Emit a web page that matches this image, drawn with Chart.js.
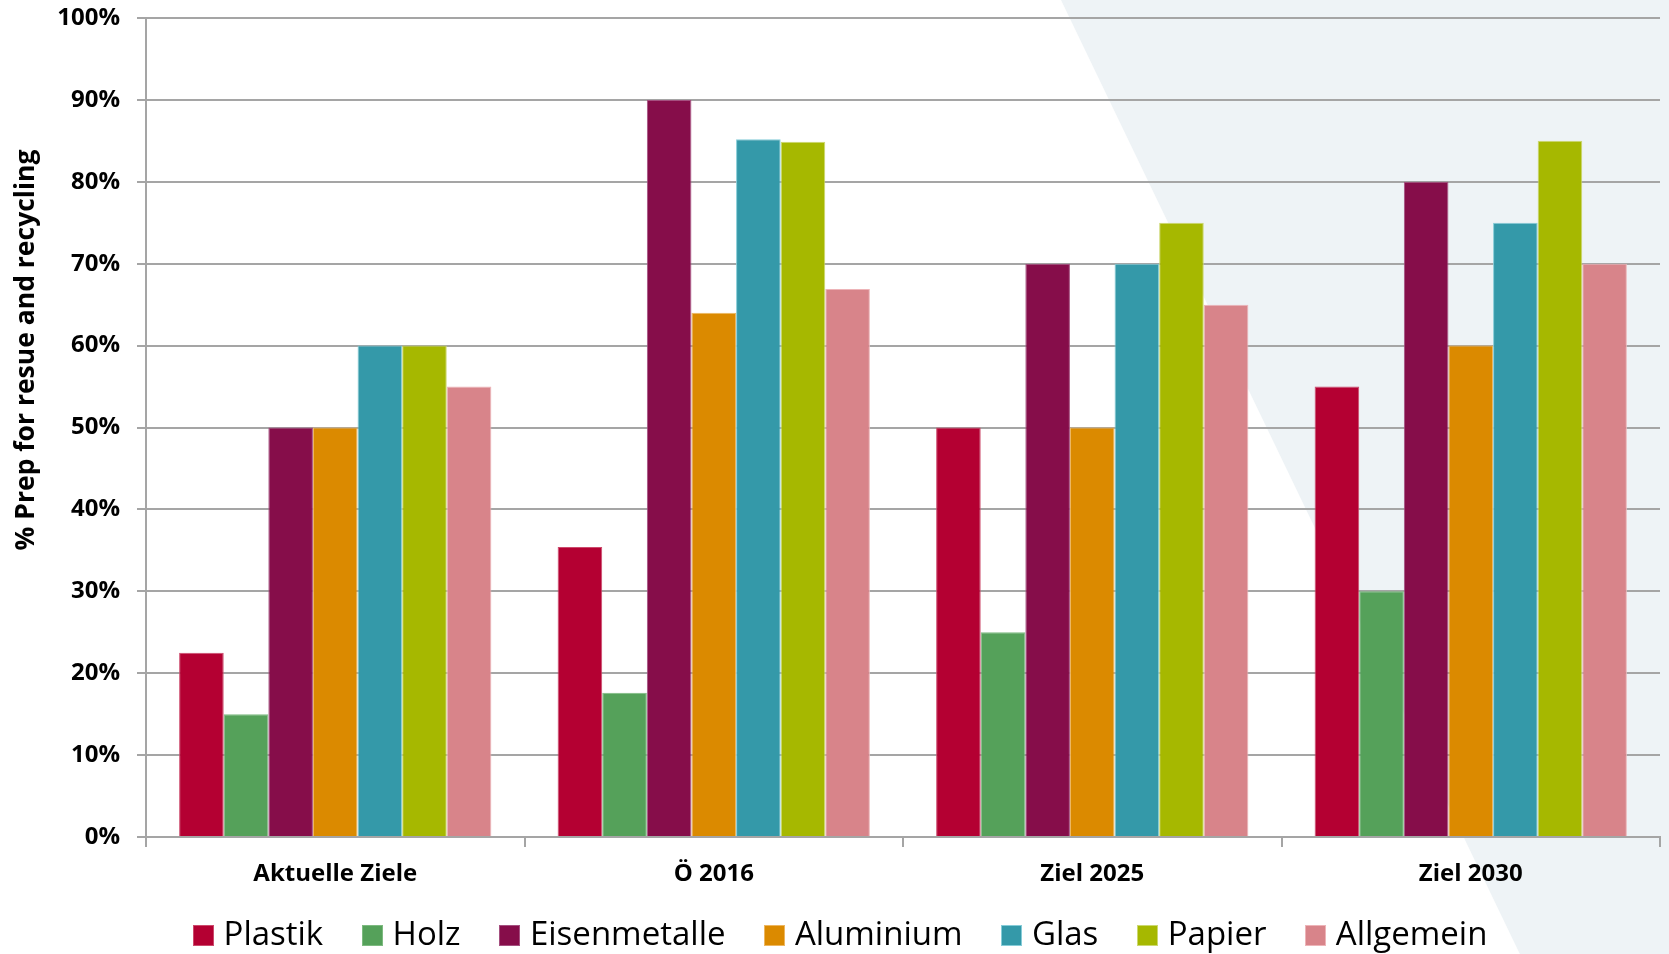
<!DOCTYPE html>
<html>
<head>
<meta charset="utf-8">
<script src="https://cdn.jsdelivr.net/npm/chart.js@4/dist/chart.umd.min.js"></script>
<style>
  html, body { margin: 0; padding: 0; overflow: hidden; background: #fff; }
  #wrap { position: relative; width: 1669px; height: 954px; }
  #legend {
    position: absolute; left: 0; top: 913px; width: 1669px; height: 40px;
    box-sizing: border-box; padding-left: 11px;
    display: flex; justify-content: center; align-items: center;
    font-family: 'Open Sans', 'Noto Sans', sans-serif; font-size: 33px; line-height: 40px; color: #000;
    white-space: nowrap;
  }
  #legend .item { display: flex; align-items: center; margin: 0 19.2px; }
  #legend .box { width: 19px; height: 19px; margin-right: 10px; margin-top: 5px; border: 1px solid transparent; }
</style>
</head>
<body>
<div id="wrap">
  <canvas id="chart"></canvas>
  <div id="legend"></div>
</div>
<script>
// Recycling targets per material group
const categories = ['Aktuelle Ziele', 'Ö 2016', 'Ziel 2025', 'Ziel 2030'];
const plastik   = [22.5, 35.4, 50, 55];
const holz      = [15, 17.6, 25, 30];
const eisen     = [50, 90, 70, 80];
const aluminium = [50, 64, 50, 60];
const glas      = [60, 85.2, 70, 75];
const papier    = [60, 84.9, 75, 85];
const allgemein = [55, 66.9, 65, 70];
const yTickLabels = ['0%', '10%', '20%', '30%', '40%', '50%', '60%', '70%', '80%', '90%', '100%'];
const yTitle = '% Prep for resue and recycling';

const FONT = "'Open Sans', 'Noto Sans', sans-serif";
Chart.defaults.font.family = FONT;
Chart.defaults.color = '#000';

const series = [
  { label: 'Plastik',     data: plastik,   fill: '#B40032', edge: '#CC4A6C' },
  { label: 'Holz',        data: holz,      fill: '#55A15A', edge: '#7DBA80' },
  { label: 'Eisenmetalle',data: eisen,     fill: '#860D4A', edge: '#A55080' },
  { label: 'Aluminium',   data: aluminium, fill: '#DB8A00', edge: '#EDB660' },
  { label: 'Glas',        data: glas,      fill: '#3499A9', edge: '#86CCD8' },
  { label: 'Papier',      data: papier,    fill: '#A6B800', edge: '#CCD870' },
  { label: 'Allgemein',   data: allgemein, fill: '#D8848A', edge: '#EDB4B8' }
];

// Pale diagonal panel behind the plot, plus the rotated value-axis title
const backdrop = {
  id: 'backdrop',
  beforeDraw(chart) {
    const { ctx, width, height } = chart;
    ctx.save();
    ctx.fillStyle = '#ffffff';
    ctx.fillRect(0, 0, width, height);
    ctx.fillStyle = '#EEF3F6';
    ctx.beginPath();
    ctx.moveTo(1061, 0);
    ctx.lineTo(width, 0);
    ctx.lineTo(width, height);
    ctx.lineTo(1061 + 0.481 * height, height);
    ctx.closePath();
    ctx.fill();
    ctx.restore();
  },
  afterDraw(chart) {
    const { ctx } = chart;
    ctx.save();
    ctx.translate(26, 350);
    ctx.rotate(-Math.PI / 2);
    ctx.font = 'bold 26.5px ' + FONT;
    ctx.fillStyle = '#000';
    ctx.textAlign = 'center';
    ctx.textBaseline = 'middle';
    ctx.fillText(yTitle, 0, 0);
    ctx.restore();
  }
};

const chart = new Chart(document.getElementById('chart'), {
  type: 'bar',
  data: {
    labels: categories,
    datasets: series.map(s => ({
      label: s.label,
      data: s.data,
      backgroundColor: s.fill,
      borderColor: s.edge,
      borderWidth: 1,
      barPercentage: 1.0,
      categoryPercentage: 0.825
    }))
  },
  options: {
    responsive: true,
    maintainAspectRatio: false,
    animation: false,
    layout: { padding: { left: 0, right: 9, top: 18, bottom: 0 } },
    plugins: {
      tooltip: { enabled: false },
      legend: { display: false }
    },
    scales: {
      x: {
        afterFit(scale) { scale.height = 117; },
        grid: {
          display: true,
          drawOnChartArea: false,
          drawTicks: true,
          tickLength: 10,
          color: '#A5A5A5',
          lineWidth: 2
        },
        border: { display: true, color: '#A5A5A5', width: 2 },
        ticks: {
          padding: 13,
          color: '#000',
          font: { size: 24, weight: 'bold', family: FONT }
        }
      },
      y: {
        min: 0,
        max: 100,
        afterFit(scale) {
          scale.width = 146;
          scale.paddingTop = 0;
          scale.paddingBottom = 0;
        },
        grid: {
          color: '#A5A5A5',
          lineWidth: 2,
          tickLength: 9
        },
        border: { display: true, color: '#A5A5A5', width: 2 },
        ticks: {
          stepSize: 10,
          padding: 17,
          color: '#000',
          font: { size: 24, weight: 'bold', family: FONT },
          callback: (value, index) => yTickLabels[index]
        }
      }
    }
  },
  plugins: [backdrop]
});

// Legend row built from the chart's datasets
const legendEl = document.getElementById('legend');
chart.data.datasets.forEach(ds => {
  const item = document.createElement('div');
  item.className = 'item';
  const box = document.createElement('span');
  box.className = 'box';
  box.style.background = ds.backgroundColor;
  box.style.borderColor = ds.borderColor;
  const txt = document.createElement('span');
  txt.textContent = ds.label;
  item.appendChild(box);
  item.appendChild(txt);
  legendEl.appendChild(item);
});
</script>
</body>
</html>
